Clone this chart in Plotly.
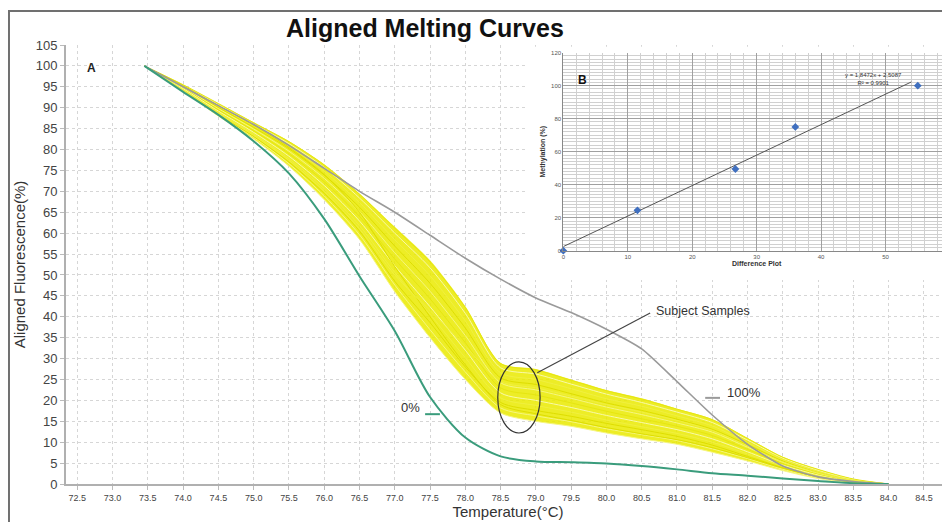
import plotly.graph_objects as go

# ---------------- data ----------------
temperature = [73.45, 74.0, 74.5, 75.0, 75.5, 76.0, 76.5, 77.0, 77.5, 78.0, 78.5,
               79.0, 79.5, 80.0, 80.5, 81.0, 81.5, 82.0, 82.5, 83.0, 83.5, 84.0]

std_0pct = [100, 93.8, 88.3, 82.0, 74.3, 63.4, 49.7, 36.6, 20.8, 11.1, 6.6,
            5.4, 5.2, 4.9, 4.3, 3.5, 2.6, 2.0, 1.3, 0.7, 0.2, 0]
std_100pct = [100, 95.0, 90.5, 86.0, 81.0, 75.5, 70.0, 65.0, 59.5, 54.0, 49.0,
              44.5, 41.0, 37.0, 32.3, 24.5, 16.5, 9.5, 4.3, 1.7, 0.6, 0]

band_low = [100, 94.0, 88.0, 82.5, 76.0, 68.0, 58.5, 46.0, 35.0, 25.0, 17.0,
            15.0, 13.8, 12.2, 10.8, 9.5, 7.6, 5.5, 3.2, 1.3, 0.3, 0]
band_high = [100, 95.5, 91.0, 86.5, 82.0, 76.5, 69.5, 61.5, 53.5, 42.5, 29.0,
             27.5, 25.0, 22.5, 20.5, 18.0, 15.5, 11.0, 6.5, 3.5, 1.2, 0]

sample_01 = [100, 94.2, 88.3, 82.9, 76.6, 68.9, 59.6, 47.6, 36.9, 26.8, 18.2, 16.3, 14.9, 13.2, 11.8, 10.4, 8.4, 6.1, 3.5, 1.5, 0.4, 0]
sample_02 = [100, 94.1, 88.4, 83.1, 77.0, 69.5, 60.5, 48.5, 38.6, 28.0, 19.5, 17.6, 16.2, 14.5, 13.0, 11.4, 9.3, 6.6, 3.9, 1.7, 0.5, 0]
sample_03 = [100, 94.5, 88.9, 83.7, 77.8, 70.6, 61.8, 50.6, 40.6, 30.2, 20.6, 18.8, 17.2, 15.3, 13.7, 12.1, 10.0, 7.2, 4.2, 1.9, 0.55, 0]
sample_04 = [100, 94.6, 89.2, 84.1, 78.4, 71.4, 62.9, 52.2, 42.4, 32.0, 21.8, 20.0, 18.3, 16.4, 14.7, 13.0, 10.8, 7.7, 4.5, 2.2, 0.65, 0]
sample_05 = [100, 94.8, 89.5, 84.5, 79.0, 72.3, 64.0, 53.8, 44.3, 33.8, 23.0, 21.3, 19.4, 17.4, 15.6, 13.8, 11.6, 8.3, 4.9, 2.4, 0.75, 0]
sample_06 = [100, 94.9, 89.8, 84.9, 79.6, 73.1, 65.1, 55.3, 46.1, 35.5, 24.2, 22.5, 20.5, 18.4, 16.6, 14.6, 12.4, 8.8, 5.2, 2.6, 0.85, 0]
sample_07 = [100, 95.1, 90.1, 85.3, 80.2, 73.9, 66.2, 56.9, 48.0, 37.3, 25.4, 23.8, 21.6, 19.4, 17.6, 15.5, 13.1, 9.4, 5.5, 2.8, 0.95, 0]
sample_08 = [100, 95.2, 90.4, 85.7, 80.8, 74.8, 67.3, 58.4, 49.8, 39.0, 26.6, 25.0, 22.8, 20.4, 18.6, 16.3, 13.9, 9.9, 5.8, 3.0, 1.0, 0]
sample_09 = [100, 95.4, 90.7, 86.1, 81.4, 75.7, 68.4, 60.0, 51.7, 40.8, 27.8, 26.3, 23.9, 21.5, 19.5, 17.2, 14.7, 10.5, 6.2, 3.3, 1.1, 0]
sample_10 = [100, 95.5, 91.0, 86.4, 81.9, 76.3, 69.3, 61.2, 53.1, 42.2, 28.8, 27.3, 24.8, 22.3, 20.3, 17.9, 15.4, 10.9, 6.4, 3.5, 1.2, 0]
sample_11 = [100, 94.0, 88.0, 82.5, 76.0, 68.0, 58.5, 46.0, 35.0, 25.0, 17.0, 15.0, 13.8, 12.2, 10.8, 9.5, 7.6, 5.5, 3.2, 1.3, 0.3, 0]
sample_12 = [100, 95.3, 90.5, 85.8, 80.5, 74.0, 65.0, 52.0, 40.0, 28.5, 19.0, 16.8, 15.2, 13.5, 12.0, 10.6, 8.7, 6.3, 3.8, 1.7, 0.5, 0]
sample_13 = [100, 94.3, 88.6, 83.4, 77.4, 70.0, 61.0, 50.0, 41.5, 33.0, 24.5, 23.0, 21.0, 19.0, 17.2, 15.2, 12.8, 9.1, 5.3, 2.7, 0.9, 0]
samples = [sample_01, sample_02, sample_03, sample_04, sample_05, sample_06, sample_07,
           sample_08, sample_09, sample_10, sample_11, sample_12, sample_13]

x_ticks = [72.5, 73.0, 73.5, 74.0, 74.5, 75.0, 75.5, 76.0, 76.5, 77.0, 77.5, 78.0, 78.5,
           79.0, 79.5, 80.0, 80.5, 81.0, 81.5, 82.0, 82.5, 83.0, 83.5, 84.0, 84.5]
x_tick_labels = ["%.1f" % v for v in x_ticks]

# inset (B) data
diff_plot = [0, 11.5, 26.7, 36.0, 55.0]
methylation = [0, 24.5, 49.5, 75.0, 100.0]
trend_slope = 1.8472
trend_intercept = 2.5087
trend_x = [0, 54]

# ---------------- figure ----------------
GREEN = "#3a9c7c"
GRAY = "#9a9a9a"
FONT = "Liberation Sans, Arial, sans-serif"

fig = go.Figure()

fig.add_trace(go.Scatter(x=temperature, y=band_low, mode="lines", line=dict(width=0, shape="spline", smoothing=0.8),
                         hoverinfo="skip", showlegend=False, xaxis="x", yaxis="y"))
fig.add_trace(go.Scatter(x=temperature, y=band_high, mode="lines", line=dict(width=0, shape="spline", smoothing=0.8),
                         fill="tonexty", fillcolor="rgba(234,234,0,0.85)",
                         hoverinfo="skip", showlegend=False, xaxis="x", yaxis="y"))

yellow_shades = ["#f6f680", "#dede00", "#f0f040", "#f9f9a8", "#e6e610"]
for i, s in enumerate(samples):
    fig.add_trace(go.Scatter(x=temperature, y=s, mode="lines",
                             line=dict(color=yellow_shades[i % len(yellow_shades)], width=1, shape="spline", smoothing=0.8),
                             showlegend=False, xaxis="x", yaxis="y"))

fig.add_trace(go.Scatter(x=temperature, y=std_100pct, mode="lines",
                         line=dict(color=GRAY, width=1.6, shape="spline", smoothing=0.6),
                         showlegend=False, xaxis="x", yaxis="y"))
fig.add_trace(go.Scatter(x=temperature, y=std_0pct, mode="lines",
                         line=dict(color=GREEN, width=2, shape="spline", smoothing=0.8),
                         showlegend=False, xaxis="x", yaxis="y"))

# inset traces
trend_y = [trend_slope * v + trend_intercept for v in trend_x]
fig.add_trace(go.Scatter(x=trend_x, y=trend_y, mode="lines", line=dict(color="#555555", width=1),
                         showlegend=False, xaxis="x2", yaxis="y2"))
fig.add_trace(go.Scatter(x=diff_plot, y=methylation, mode="markers",
                         marker=dict(symbol="diamond", size=6, color="#3f6fbf"),
                         showlegend=False, xaxis="x2", yaxis="y2", cliponaxis=False))

# the page body has an 8px margin, so the figure is laid out 8px smaller
fig.update_layout(
    width=942, height=514,
    margin=dict(l=58, r=0, t=37, b=38),
    paper_bgcolor="white", plot_bgcolor="white",
    font=dict(family=FONT, color="#333333"),
    title=dict(text="<b>Aligned Melting Curves</b>", font=dict(size=25, color="#111111", family=FONT),
               xref="paper", x=0.406, xanchor="center", yref="container", y=0.961, yanchor="middle"),
    xaxis=dict(range=[72.34, 84.87], tickvals=x_ticks, ticktext=x_tick_labels,
               tickfont=dict(size=9, color="#444444"), ticks="outside", ticklen=4, tickcolor="#bbbbbb",
               showgrid=True, gridcolor="#d6d6d6", griddash="dot", gridwidth=1,
               showline=True, linecolor="#b0b0b0", linewidth=2, zeroline=False,
               title=dict(text="Temperature(°C)", font=dict(size=15, color="#333333"), standoff=5)),
    yaxis=dict(range=[0, 105], dtick=5, tick0=0,
               tickfont=dict(size=13, color="#444444"), ticks="outside", ticklen=4, tickcolor="#bbbbbb",
               showgrid=True, gridcolor="#d6d6d6", griddash="dot", gridwidth=1,
               showline=True, linecolor="#b0b0b0", linewidth=2, zeroline=False,
               title=dict(text="Aligned Fluorescence(%)", font=dict(size=15, color="#333333"), standoff=6)),
    xaxis2=dict(domain=[0.5626, 1.0], anchor="y2", range=[0, 60], dtick=10,
                tickfont=dict(size=6, color="#555555"), ticks="",
                showgrid=True, gridcolor="#a0a0a0", gridwidth=1,
                minor=dict(dtick=2, showgrid=True, gridcolor="#d0d0d0", gridwidth=1),
                showline=True, linecolor="#888888", linewidth=1, zeroline=False,
                title=dict(text="<b>Difference Plot</b>", font=dict(size=7, color="#333333"), standoff=2)),
    yaxis2=dict(domain=[0.5314, 0.9825], anchor="x2", range=[0, 120], dtick=20,
                tickfont=dict(size=6, color="#555555"), ticks="",
                showgrid=True, gridcolor="#a0a0a0", gridwidth=1,
                minor=dict(dtick=2, showgrid=True, gridcolor="#d0d0d0", gridwidth=1),
                showline=True, linecolor="#888888", linewidth=1, zeroline=False,
                title=dict(text="<b>Methylation (%)</b>", font=dict(size=7, color="#333333"), standoff=4)),
)

shapes = [
    # white panel behind inset B (hides main grid, keeps the top 105 line)
    dict(type="rect", xref="x", yref="y", x0=78.87, x1=85.5, y0=48.8, y1=104.6,
         fillcolor="white", line=dict(width=0), layer="between"),
    # outer frame
    dict(type="path", xref="paper", yref="paper",
         path="M -0.0645 -0.2 L -0.0645 1.0774 L 1.2 1.0774",
         line=dict(color="#707070", width=2), layer="above"),
    # ellipse around subject samples
    dict(type="circle", xref="x", yref="y", x0=78.46, x1=79.06, y0=12.2, y1=29.2,
         line=dict(color="#333333", width=1.2), layer="above"),
    # pointer line
    dict(type="line", xref="x", yref="y", x0=79.02, y0=26.6, x1=80.62, y1=40.9,
         line=dict(color="#444444", width=1.2), layer="above"),
    # 0% dash
    dict(type="line", xref="x", yref="y", x0=77.43, y0=16.7, x1=77.64, y1=16.7,
         line=dict(color=GREEN, width=2), layer="above"),
    # 100% dash
    dict(type="line", xref="x", yref="y", x0=81.4, y0=20.6, x1=81.61, y1=20.6,
         line=dict(color=GRAY, width=2), layer="above"),
]
fig.update_layout(shapes=shapes)

annotations = [
    dict(text="<b>A</b>", x=72.7, y=99.5, xref="x", yref="y", showarrow=False,
         font=dict(size=12, color="#222222"), xanchor="center", yanchor="middle"),
    dict(text="Subject Samples", x=80.67, y=41.3, xref="x", yref="y", showarrow=False,
         font=dict(size=12.5, color="#333333"), xanchor="left", yanchor="middle"),
    dict(text="0%", x=77.39, y=18.2, xref="x", yref="y", showarrow=False,
         font=dict(size=13, color="#333333"), xanchor="right", yanchor="middle"),
    dict(text="100%", x=81.68, y=22.0, xref="x", yref="y", showarrow=False,
         font=dict(size=13, color="#333333"), xanchor="left", yanchor="middle"),
    dict(text="<b>B</b>", x=3.0, y=103.5, xref="x2", yref="y2", showarrow=False,
         font=dict(size=12, color="#111111"), xanchor="center", yanchor="middle"),
    dict(text="y = 1,8472x + 2,5087<br>R² = 0,9901", x=48.2, y=104, xref="x2", yref="y2", showarrow=False,
         font=dict(size=6, color="#333333"), xanchor="center", yanchor="middle", align="center"),
]
fig.update_layout(annotations=annotations)

fig.write_html("out.html")
